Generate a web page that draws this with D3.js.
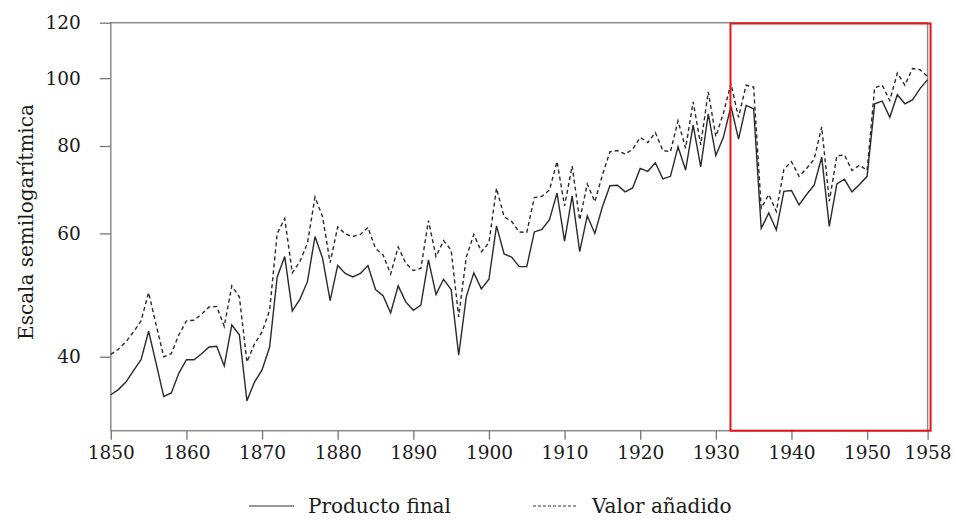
<!DOCTYPE html>
<html>
<head>
<meta charset="utf-8">
<script src="https://cdn.jsdelivr.net/npm/d3@7"></script>
<style>
  body { margin: 0; background: #fff; }
  svg { display: block; }
  .axis text { font-family: "DejaVu Serif", serif; font-size: 18.5px; fill: #1a1a1a; }
  .axis line { stroke: #777; stroke-width: 1.3; }
  .axis path { display: none; }
</style>
</head>
<body>
<svg width="956" height="522"></svg>
<script>
// annual index, 1850-1958
var years = d3.range(1850, 1959);

var productoFinal = [
  35.3, 35.9, 36.8, 38.2, 39.6, 43.5, 39.1, 35.1, 35.5, 37.9,
  39.6, 39.6, 40.4, 41.3, 41.4, 38.8, 44.4, 43.0, 34.6, 36.8,
  38.3, 41.3, 52.0, 55.6, 46.5, 48.3, 51.2, 59.4, 55.3, 48.1,
  54.0, 52.6, 52.0, 52.6, 54.0, 49.9, 48.9, 46.2, 50.5, 47.9,
  46.6, 47.4, 55.0, 49.1, 51.6, 49.9, 40.2, 48.7, 52.7, 50.0,
  51.6, 61.5, 56.1, 55.5, 53.8, 53.8, 60.3, 60.8, 62.8, 68.5,
  58.5, 67.9, 56.5, 63.6, 60.0, 65.5, 70.2, 70.3, 68.8, 69.7,
  74.3, 73.6, 75.7, 71.8, 72.4, 79.8, 73.9, 85.7, 74.7, 88.9,
  77.5, 82.3, 91.2, 81.8, 91.4, 90.4, 61.0, 64.2, 60.7, 68.9,
  69.1, 65.9, 68.2, 70.3, 77.1, 61.4, 70.6, 71.7, 68.8, 70.5,
  72.4, 91.9, 92.7, 87.9, 94.7, 91.9, 93.1, 96.6, 99.5
];

var valorAnadido = [
  40.3, 41.0, 42.0, 43.4, 45.0, 49.4, 44.4, 40.0, 40.4, 43.0,
  45.0, 45.1, 46.0, 47.1, 47.2, 44.2, 50.5, 48.7, 39.3, 41.7,
  43.4, 46.6, 60.0, 63.0, 52.7, 54.7, 58.1, 67.6, 63.4, 54.5,
  61.3, 59.9, 59.4, 59.8, 61.2, 57.1, 55.9, 52.5, 57.4, 54.4,
  53.1, 53.5, 62.6, 55.6, 58.6, 56.8, 45.6, 55.5, 59.8, 56.5,
  58.2, 69.6, 63.4, 62.4, 60.3, 60.2, 67.5, 67.8, 69.2, 76.0,
  65.7, 74.9, 62.7, 70.6, 66.6, 72.7, 78.5, 78.8, 77.9, 79.1,
  82.3, 80.9, 83.6, 78.8, 78.5, 86.9, 79.4, 92.5, 80.3, 95.6,
  82.5, 89.1, 98.2, 87.9, 97.7, 97.1, 65.2, 68.2, 64.5, 74.1,
  76.0, 72.4, 74.3, 76.6, 85.2, 66.7, 77.4, 77.7, 73.8, 75.1,
  73.8, 96.9, 97.7, 92.9, 101.7, 97.7, 103.2, 102.8, 100.5
];

var xTicks = [1850, 1860, 1870, 1880, 1890, 1900, 1910, 1920, 1930, 1940, 1950, 1958];
var yTicks = [40, 60, 80, 100, 120];
var highlight = [1932, 1958];   // red box

function drawChart () {
    var svg = d3.select("svg"),
        mLeft = 110.8, mRight = 927.6, mTop = 22.7, mBottom = 430.7;

    var x = d3.scaleLinear().domain([1850, 1958]).range([mLeft, mRight]);
    var y = d3.scaleLog().domain([31.36, 120]).range([mBottom, mTop]);

    // frame
    svg.append("rect")
        .attr("x", mLeft).attr("y", mTop)
        .attr("width", mRight - mLeft).attr("height", mBottom - mTop)
        .attr("fill", "none").attr("stroke", "#8a8a8a").attr("stroke-width", 1.5);

    svg.append("g")
        .attr("class", "axis")
        .attr("transform", "translate(" + mLeft + ",0)")
        .call(d3.axisLeft(y).tickValues(yTicks).tickSize(11).tickSizeOuter(0)
            .tickPadding(19).tickFormat(d3.format("d")));

    svg.append("g")
        .attr("class", "axis")
        .attr("transform", "translate(0," + mBottom + ")")
        .call(d3.axisBottom(x).tickValues(xTicks).tickSize(9).tickSizeOuter(0)
            .tickPadding(6).tickFormat(d3.format("d")));

    svg.append("text")
        .attr("transform", "translate(33,222) rotate(-90)")
        .attr("text-anchor", "middle")
        .style("font", "20px 'DejaVu Serif', serif")
        .attr("fill", "#1a1a1a")
        .text("Escala semilogarítmica");

    var line = d3.line()
        .x(function(d, i) { return x(years[i]); })
        .y(function(d) { return y(d); });

    svg.append("path")
        .datum(valorAnadido)
        .attr("fill", "none")
        .attr("stroke", "#2a2a2a")
        .attr("stroke-width", 1.4)
        .attr("stroke-dasharray", "4,3")
        .attr("d", line);

    svg.append("path")
        .datum(productoFinal)
        .attr("fill", "none")
        .attr("stroke", "#2a2a2a")
        .attr("stroke-width", 1.4)
        .attr("d", line);

    // highlighted period
    svg.append("rect")
        .attr("x", x(highlight[0]) - 0.5)
        .attr("y", mTop + 0.8)
        .attr("width", x(highlight[1]) - x(highlight[0]) + 3.5)
        .attr("height", mBottom - mTop - 0.8)
        .attr("fill", "none")
        .attr("stroke", "#e8141b")
        .attr("stroke-width", 2);

    // legend
    var legend = svg.append("g").style("font", "20px 'DejaVu Serif', serif");
    var items = [
        {label: "Producto final", dash: null, x: 249},
        {label: "Valor añadido", dash: "3,2", x: 533}
    ];
    items.forEach(function(d) {
        legend.append("line")
            .attr("x1", d.x).attr("x2", d.x + 45)
            .attr("y1", 506).attr("y2", 506)
            .attr("stroke", "#333").attr("stroke-width", 1.2)
            .attr("stroke-dasharray", d.dash);
        legend.append("text")
            .attr("x", d.x + 59).attr("y", 513)
            .attr("fill", "#1a1a1a")
            .text(d.label);
    });
}

drawChart();
</script>
</body>
</html>
